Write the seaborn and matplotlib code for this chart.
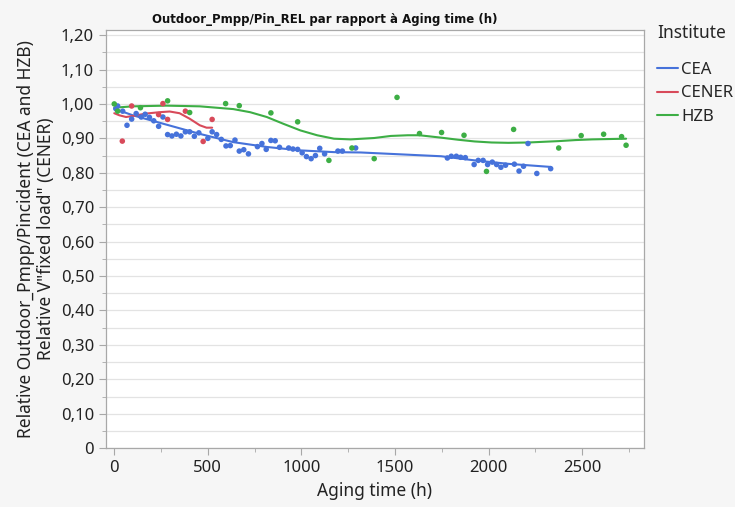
import numpy as np
import pandas as pd
import matplotlib
matplotlib.use("Agg")
import matplotlib.pyplot as plt
from matplotlib.ticker import MultipleLocator, FuncFormatter
import seaborn as sns

# ── Points mesurés ──────────────────────────────────────────────
cea_x = [9, 18, 45, 68, 93, 117, 144, 165, 188, 211, 237, 260, 285, 308, 332, 356,
         380, 403, 428, 452, 500, 523, 547, 572, 597, 620, 645, 668, 692, 717, 765,
         789, 812, 837, 860, 883, 932, 955, 980, 1004, 1027, 1052, 1075, 1098, 1124,
         1195, 1219, 1290, 1780, 1801, 1828, 1851, 1876, 1923, 1945, 1971, 1995,
         2020, 2043, 2066, 2091, 2138, 2163, 2187, 2211, 2258, 2332]
cea_y = [0.986, 0.994, 0.979, 0.938, 0.956, 0.972, 0.962, 0.970, 0.961, 0.951, 0.935,
         0.962, 0.911, 0.907, 0.912, 0.907, 0.919, 0.919, 0.906, 0.916, 0.900, 0.919,
         0.911, 0.897, 0.878, 0.879, 0.895, 0.863, 0.867, 0.855, 0.876, 0.885, 0.868,
         0.894, 0.893, 0.874, 0.872, 0.869, 0.868, 0.858, 0.847, 0.841, 0.850, 0.871,
         0.855, 0.863, 0.863, 0.872, 0.843, 0.848, 0.848, 0.845, 0.844, 0.824, 0.836,
         0.836, 0.824, 0.831, 0.824, 0.816, 0.822, 0.825, 0.805, 0.819, 0.885, 0.798,
         0.812]

cener_x = [43, 93, 237, 260, 285, 380, 475, 523]
cener_y = [0.892, 0.994, 0.969, 1.001, 0.955, 0.979, 0.891, 0.955]

hzb_x = [0, 18, 140, 285, 403, 595, 668, 837, 980, 1147, 1270, 1389, 1511, 1631,
         1749, 1869, 1989, 2134, 2375, 2495, 2615, 2711, 2735]
hzb_y = [1.000, 0.979, 0.989, 1.009, 0.975, 1.001, 0.995, 0.974, 0.948, 0.836, 0.872,
         0.841, 1.019, 0.914, 0.917, 0.909, 0.804, 0.926, 0.872, 0.908, 0.912, 0.905,
         0.880]

# ── Courbes lissées ─────────────────────────────────────────────
cea_fit_x = [0, 99, 278, 457, 636, 815, 995, 1174, 1317, 1747, 1926, 2106, 2332]
cea_fit_y = [0.986, 0.967, 0.940, 0.913, 0.889, 0.875, 0.865, 0.860, 0.859, 0.848,
             0.836, 0.826, 0.817]

cener_fit_x = [0, 27, 63, 99, 170, 242, 296, 349, 403, 457, 493, 523]
cener_fit_y = [0.973, 0.967, 0.962, 0.965, 0.972, 0.976, 0.978, 0.973, 0.957, 0.938,
               0.931, 0.931]

hzb_fit_x = [0, 99, 278, 457, 636, 726, 815, 905, 995, 1084, 1174, 1263, 1389, 1478,
             1568, 1631, 1747, 1837, 1926, 2016, 2106, 2213, 2375, 2464, 2554, 2643, 2735]
hzb_fit_y = [0.989, 0.993, 0.995, 0.993, 0.985, 0.976, 0.962, 0.942, 0.923, 0.909,
             0.899, 0.897, 0.901, 0.907, 0.909, 0.909, 0.902, 0.896, 0.891, 0.888,
             0.887, 0.888, 0.892, 0.895, 0.897, 0.898, 0.899]

institutes = ["CEA", "CENER", "HZB"]
palette = {"CEA": "#4672da", "CENER": "#d84a5a", "HZB": "#3dae45"}

points = pd.concat([
    pd.DataFrame({"x": cea_x, "y": cea_y, "Institute": "CEA"}),
    pd.DataFrame({"x": cener_x, "y": cener_y, "Institute": "CENER"}),
    pd.DataFrame({"x": hzb_x, "y": hzb_y, "Institute": "HZB"}),
])
fits = pd.concat([
    pd.DataFrame({"x": cea_fit_x, "y": cea_fit_y, "Institute": "CEA"}),
    pd.DataFrame({"x": cener_fit_x, "y": cener_fit_y, "Institute": "CENER"}),
    pd.DataFrame({"x": hzb_fit_x, "y": hzb_fit_y, "Institute": "HZB"}),
])

sns.set_style("white")
plt.rcParams["font.family"] = ["Noto Sans", "DejaVu Sans"]

fig = plt.figure(figsize=(7.35, 5.07), dpi=100, facecolor="#f6f6f6")
ax = fig.add_axes([0.144, 0.116, 0.732, 0.825])
ax.set_facecolor("white")

sns.scatterplot(data=points, x="x", y="y", hue="Institute", hue_order=institutes,
                palette=palette, s=16, linewidth=0, legend=False, ax=ax, zorder=3)
sns.lineplot(data=fits, x="x", y="y", hue="Institute", hue_order=institutes,
             palette=palette, linewidth=1.5, ax=ax, sort=True, estimator=None,
             zorder=2)

ax.set_xlim(-45, 2830)
ax.set_ylim(0, 1.215)
ax.xaxis.set_major_locator(MultipleLocator(500))
ax.xaxis.set_minor_locator(MultipleLocator(250))
ax.yaxis.set_major_locator(MultipleLocator(0.1))
ax.yaxis.set_minor_locator(MultipleLocator(0.05))
ax.yaxis.set_major_formatter(FuncFormatter(
    lambda v, p: "0" if abs(v) < 1e-9 else f"{v:.2f}".replace(".", ",")))

ax.grid(True, which="both", axis="y", color="#e3e3e3", linewidth=0.9)
ax.set_axisbelow(True)
for side in ax.spines.values():
    side.set_color("#a8a8a8")
    side.set_linewidth(0.9)
ax.tick_params(axis="both", which="major", direction="out", length=5,
               color="#a8a8a8", labelsize=12, labelcolor="#222222", bottom=True, left=True)
ax.tick_params(axis="both", which="minor", direction="out", length=3,
               color="#a8a8a8", bottom=True, left=True)

ax.set_xlabel("Aging time (h)", fontsize=12.5, color="#222222")
ax.set_ylabel("Relative Outdoor_Pmpp/Pincident (CEA and HZB)\n"
              "Relative V\"fixed load\" (CENER)", fontsize=12.5, color="#222222",
              labelpad=4, linespacing=1.15)

fig.text(0.442, 0.962, "Outdoor_Pmpp/Pin_REL par rapport à Aging time (h)",
         fontsize=8.5, fontweight="bold", ha="center", va="center", color="#111111",
         family=["DejaVu Sans"])

handles, labels = ax.get_legend_handles_labels()
leg = ax.legend(handles, labels, title="Institute", loc="upper left",
                bbox_to_anchor=(1.0, 1.045), frameon=False, fontsize=12,
                title_fontsize=12.5, handlelength=1.25, handletextpad=0.2,
                labelspacing=0.45, alignment="left", borderaxespad=0.4)
leg._legend_box.sep = 14
for line in leg.get_lines():
    line.set_linewidth(1.5)

fig.savefig("out.png", dpi=100, facecolor=fig.get_facecolor())
